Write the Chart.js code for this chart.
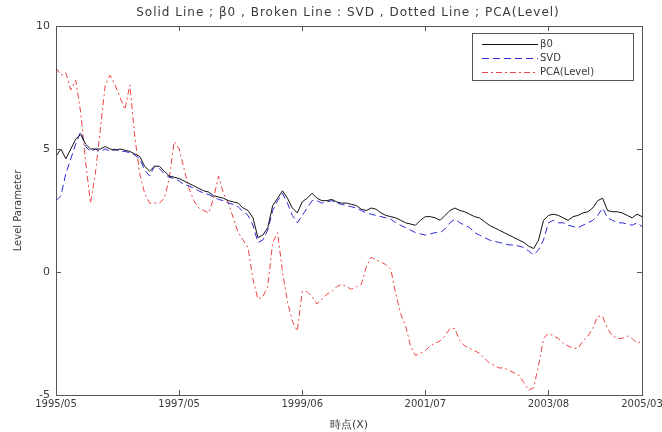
<!DOCTYPE html>
<html><head><meta charset="utf-8">
<script src="https://cdn.jsdelivr.net/npm/chart.js@4.4.1/dist/chart.umd.min.js"></script>
<style>html,body{margin:0;padding:0;background:#fff}#wrap{width:662px;height:432px;position:relative}</style>
</head><body><div id="wrap"><canvas id="c" width="662" height="432"></canvas></div>
<script>
const chartTitle = 'Solid Line ; \u03b20 , Broken Line : SVD , Dotted Line ; PCA(Level)';
const xTitle = '時点(X)';
const yTitle = 'Level Parameter';
const tickLabels = ['1995/05','1997/05','1999/06','2001/07','2003/08','2005/03'];
const tickIndex = [0,25,50,75,100,119];
const yTicks = [-5,0,5,10];
const seriesNames = ['\u03b20','SVD','PCA(Level)'];

const beta0 = [4.7,5.0,4.6,5.0,5.4,5.6,5.2,5.0,5.0,5.0,5.1,5.0,4.95,5.0,4.95,4.9,4.8,4.7,4.3,4.1,
4.3,4.3,4.1,3.9,3.85,3.8,3.7,3.6,3.5,3.4,3.3,3.25,3.1,3.05,3.0,2.9,2.85,2.8,2.6,2.5,
2.2,1.4,1.5,1.8,2.7,3.0,3.3,3.0,2.6,2.4,2.85,3.0,3.2,3.0,2.9,2.9,2.95,2.85,2.8,2.8,
2.75,2.7,2.55,2.5,2.6,2.55,2.4,2.3,2.25,2.2,2.1,2.0,1.95,1.9,2.1,2.25,2.25,2.2,2.1,2.3,
2.5,2.6,2.5,2.45,2.35,2.25,2.2,2.05,1.9,1.8,1.7,1.6,1.5,1.4,1.3,1.2,1.05,0.95,1.3,2.1,
2.3,2.35,2.3,2.2,2.1,2.25,2.3,2.4,2.45,2.6,2.9,3.0,2.5,2.45,2.45,2.4,2.3,2.2,2.35,2.25];

const svd = [2.9,3.1,4.0,4.6,5.2,5.7,5.1,4.9,5.0,4.9,5.0,4.9,5.0,4.9,4.9,4.85,4.75,4.6,4.15,3.9,
4.3,4.2,4.0,3.85,3.8,3.7,3.55,3.5,3.4,3.3,3.2,3.15,3.05,2.95,2.9,2.8,2.75,2.65,2.45,2.3,
1.9,1.2,1.3,1.7,2.5,2.9,3.2,2.8,2.3,2.0,2.3,2.6,2.9,2.9,2.8,2.85,2.9,2.8,2.75,2.7,
2.65,2.6,2.5,2.4,2.35,2.3,2.25,2.2,2.15,2.0,1.9,1.8,1.7,1.6,1.55,1.5,1.55,1.6,1.6,1.75,
2.0,2.15,2.0,1.9,1.8,1.6,1.5,1.4,1.3,1.25,1.2,1.15,1.1,1.1,1.05,1.0,0.85,0.7,0.9,1.3,
2.0,2.1,2.0,2.0,1.9,1.85,1.8,1.9,2.0,2.1,2.3,2.6,2.2,2.1,2.0,2.0,1.95,1.9,2.0,1.85];

const pcaLevel = [8.3,8.0,8.1,7.4,7.8,6.5,4.5,2.8,4.0,5.8,7.6,8.0,7.6,7.1,6.6,7.6,5.5,4.0,3.2,2.8,
2.8,2.8,3.0,3.8,5.3,5.0,4.2,3.4,2.9,2.6,2.5,2.4,3.0,3.9,3.2,2.8,2.2,1.6,1.3,1.0,
-0.3,-1.1,-1.0,-0.6,1.2,1.6,0.0,-1.2,-2.0,-2.4,-0.8,-0.8,-1.0,-1.3,-1.1,-0.9,-0.8,-0.6,-0.5,-0.6,
-0.7,-0.6,-0.5,0.2,0.6,0.5,0.4,0.3,0.1,-0.9,-1.7,-2.2,-3.0,-3.4,-3.3,-3.2,-3.0,-2.9,-2.8,-2.6,
-2.3,-2.3,-2.8,-3.0,-3.1,-3.2,-3.3,-3.5,-3.7,-3.8,-3.9,-3.9,-4.0,-4.1,-4.2,-4.5,-4.8,-4.7,-3.8,-2.7,
-2.5,-2.6,-2.7,-2.9,-3.0,-3.1,-3.1,-2.8,-2.6,-2.3,-1.8,-1.8,-2.3,-2.6,-2.7,-2.7,-2.6,-2.7,-2.9,-2.8];

const FONT = '"DejaVu Sans", "Liberation Sans", sans-serif';
const TXT = '#3a3a3a';
const pts = arr => arr.map((v,i)=>({x:i,y:v}));

const framePlugin = {
  id:'frame',
  afterDraw(chart){
    const {ctx, chartArea:a, scales} = chart;
    ctx.save();
    ctx.strokeStyle = '#555';
    ctx.lineWidth = 1;
    ctx.strokeRect(Math.round(a.left)+0.5, Math.round(a.top)+0.5, Math.round(a.right-a.left), Math.round(a.bottom-a.top));
    ctx.beginPath();
    const tl = 5;
    tickIndex.forEach(v=>{
      const x = Math.round(scales.x.getPixelForValue(v))+0.5;
      ctx.moveTo(x,a.bottom); ctx.lineTo(x,a.bottom-tl);
      ctx.moveTo(x,a.top); ctx.lineTo(x,a.top+tl);
    });
    yTicks.forEach(v=>{
      const y = Math.round(scales.y.getPixelForValue(v))+0.5;
      ctx.moveTo(a.left,y); ctx.lineTo(a.left+tl,y);
      ctx.moveTo(a.right,y); ctx.lineTo(a.right-tl,y);
    });
    ctx.stroke();
    // title
    ctx.fillStyle = TXT;
    ctx.font = '12px '+FONT;
    ctx.letterSpacing = '1px';
    ctx.textAlign = 'center'; ctx.textBaseline = 'middle';
    ctx.fillText(chartTitle, 348, 13);
    ctx.letterSpacing = '0px';
    // legend
    const lx = 472, ly = 33, lw = 161, lh = 47;
    ctx.fillStyle = '#fff';
    ctx.fillRect(lx, ly, lw, lh);
    ctx.strokeStyle = '#555';
    ctx.strokeRect(lx+0.5, ly+0.5, lw, lh);
    chart.data.datasets.forEach((ds,i)=>{
      const y = ly + 11 + i*14 + 0.5;
      ctx.beginPath();
      ctx.strokeStyle = ds.borderColor;
      ctx.setLineDash(ds.borderDash || []);
      ctx.moveTo(lx+10, y); ctx.lineTo(lx+66, y);
      ctx.stroke();
      ctx.setLineDash([]);
      ctx.fillStyle = TXT;
      ctx.textAlign = 'left';
      ctx.font = '10px '+FONT;
      ctx.fillText(ds.label, lx+68, y);
    });
    ctx.restore();
  }
};

new Chart(document.getElementById('c'), {
  type:'line',
  data:{ datasets:[
    {label:seriesNames[0], data:pts(beta0), borderColor:'#111', borderWidth:1, pointRadius:0, tension:0},
    {label:seriesNames[1], data:pts(svd), borderColor:'#2a2ad8', borderWidth:1, borderDash:[7,4], pointRadius:0, tension:0},
    {label:seriesNames[2], data:pts(pcaLevel), borderColor:'#ee4444', borderWidth:1, borderDash:[6,3,2,3], pointRadius:0, tension:0}
  ]},
  options:{
    responsive:false, animation:false,
    layout:{padding:{left:12,right:20,top:26,bottom:0}},
    plugins:{legend:{display:false}, tooltip:{enabled:false}, title:{display:false}},
    scales:{
      x:{type:'linear', min:0, max:119,
        afterBuildTicks:s=>{s.ticks = tickIndex.map(v=>({value:v}));},
        afterFit:s=>{s.height = 37; s.paddingRight = 0; s.paddingLeft = 0;},
        ticks:{callback:(v)=>tickLabels[tickIndex.indexOf(v)], color:TXT, font:{size:10, family:FONT}, padding:3, maxRotation:0, autoSkip:false},
        grid:{display:false, drawTicks:false}, border:{display:false},
        title:{display:true, text:xTitle, color:TXT, font:{size:11, family:FONT}, padding:{top:3,bottom:0}}
      },
      y:{min:-5, max:10,
        afterBuildTicks:s=>{s.ticks = yTicks.map(v=>({value:v}));},
        afterFit:s=>{s.width = 44; s.paddingTop = 0; s.paddingBottom = 0;},
        ticks:{color:TXT, font:{size:11, family:FONT}, padding:6},
        grid:{display:false, drawTicks:false}, border:{display:false},
        title:{display:true, text:yTitle, color:TXT, font:{size:10, family:FONT}, padding:{top:0,bottom:0}}
      }
    }
  },
  plugins:[framePlugin]
});
</script></body></html>
